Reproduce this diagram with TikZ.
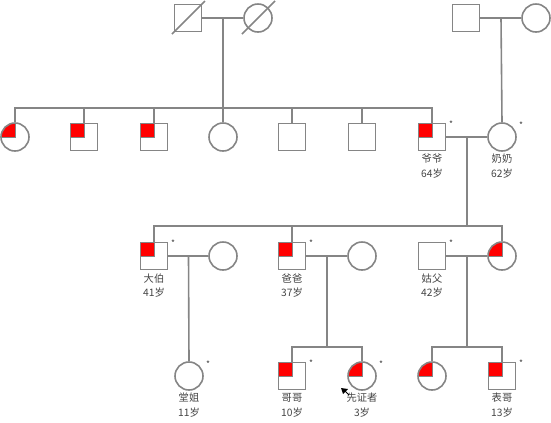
\documentclass[tikz,border=0pt]{standalone}
\usepackage{fontspec}
\newfontfamily\cjk{Noto Sans CJK SC}
\usetikzlibrary{calc}
\definecolor{ln}{HTML}{858585}
\definecolor{tx}{HTML}{444444}
\definecolor{af}{HTML}{FF0000}
\tikzset{
  x=1bp,y=-1bp,
  conn/.style={draw=ln,line width=1.6bp},
  sq/.style={draw=ln,line width=1.6bp,rectangle,minimum size=27bp,inner sep=0pt},
  circ/.style={draw=ln,line width=1.6bp,circle,minimum size=28bp,inner sep=0pt},
  aff/.style={path picture={
     \fill[af,draw=ln,line width=0.9bp] (path picture bounding box.north west) rectangle (path picture bounding box.center);}},
  lbl/.style={font=\cjk\fontsize{10.3}{12}\selectfont,text=tx,inner sep=0pt},
  star/.style={font=\cjk\fontsize{8.5}{9}\selectfont,text=tx,inner sep=0pt},
}
\begin{document}
\begin{tikzpicture}
\useasboundingbox (0,0) rectangle (551,422);
% generation 1
\node[sq] (p1) at (188,18) {};
\node[circ] (p2) at (258,18) {};
\node[sq] (p3) at (466,18) {};
\node[circ] (p4) at (536,18) {};
\draw[conn] ($(p1.center)+(-16,16)$) -- ($(p1.center)+(17,-17)$);
\draw[conn] ($(p2.center)+(-16,16)$) -- ($(p2.center)+(17,-17)$);
% generation 2
\node[circ,aff] (c1) at (15,137) {};
\node[sq,aff] (c2) at (84,137) {};
\node[sq,aff] (c3) at (154,137) {};
\node[circ] (c4) at (223,137) {};
\node[sq] (c5) at (292,137) {};
\node[sq] (c6) at (362,137) {};
\node[sq,aff] (yy) at (432,137) {};
\node[circ] (nn) at (502,137) {};
% generation 3
\node[sq,aff] (db) at (154,256) {};
\node[circ] (dw) at (223,256) {};
\node[sq,aff] (bb) at (292,256) {};
\node[circ] (mm) at (362,256) {};
\node[sq] (gf) at (432,256) {};
\node[circ,aff] (gu) at (502,256) {};
% generation 4
\node[circ] (tj) at (189,376) {};
\node[sq,aff] (gg) at (292,376) {};
\node[circ,aff] (pb) at (362,376) {};
\node[circ,aff] (bc) at (432,376) {};
\node[sq,aff] (bg) at (502,376) {};
% couple lines
\draw[conn] (p1) -- (p2);
\draw[conn] (p3) -- (p4);
\draw[conn] (yy) -- (nn);
\draw[conn] (db) -- (dw);
\draw[conn] (bb) -- (mm);
\draw[conn] (gf) -- (gu);
% sibship coordinates
\coordinate (m1) at ($(p1)!0.5!(p2)$);
\coordinate (m2) at ($(p3)!0.5!(p4)$);
\coordinate (m3) at ($(yy)!0.5!(nn)$);
\coordinate (m4) at ($(db)!0.5!(dw)$);
\coordinate (m5) at ($(bb)!0.5!(mm)$);
\coordinate (m6) at ($(gf)!0.5!(gu)$);
\coordinate (s1) at (223,108);
\coordinate (s3) at (467,226);
\coordinate (s5) at (327,347);
\coordinate (s6) at (467,347);
% gen1 -> gen2
\draw[conn] (m1) -- (s1);
\draw[conn] (c1.north) -- (c1 |- s1) -- (yy |- s1) -- (yy.north);
\foreach \n in {c2,c3,c4,c5,c6} \draw[conn] (\n.north) -- (\n |- s1);
\draw[conn] (m2) -- (nn.north);
% gen2 -> gen3
\draw[conn] (m3) -- (s3);
\draw[conn] (db.north) -- (db |- s3) -- (gu |- s3) -- (gu.north);
\draw[conn] (bb.north) -- (bb |- s3);
% gen3 -> gen4
\draw[conn] (m4) -- (tj.north);
\draw[conn] (m5) -- (s5);
\draw[conn] (gg.north) -- (gg |- s5) -- (pb |- s5) -- (pb.north);
\draw[conn] (m6) -- (s6);
\draw[conn] (bc.north) -- (bc |- s6) -- (bg |- s6) -- (bg.north);
% labels
\node[lbl] (l1) at ($(yy)+(0,22)$) {爷爷};
\node[lbl] (a1) at ($(yy)+(0,37)$) {64岁};
\node[lbl] (l2) at ($(nn)+(0,22)$) {奶奶};
\node[lbl] (a2) at ($(nn)+(0,37)$) {62岁};
\node[lbl] (l3) at ($(db)+(0,23)$) {大伯};
\node[lbl] (a3) at ($(db)+(0,37)$) {41岁};
\node[lbl] (l4) at ($(bb)+(0,23)$) {爸爸};
\node[lbl] (a4) at ($(bb)+(0,37)$) {37岁};
\node[lbl] (l5) at ($(gf)+(0,23)$) {姑父};
\node[lbl] (a5) at ($(gf)+(0,37)$) {42岁};
\node[lbl] (l6) at ($(tj)+(0,22)$) {堂姐};
\node[lbl] (a6) at ($(tj)+(0,37)$) {11岁};
\node[lbl] (l7) at ($(gg)+(0,22)$) {哥哥};
\node[lbl] (a7) at ($(gg)+(0,37)$) {10岁};
\node[lbl] (l8) at ($(pb)+(0,22)$) {先证者};
\node[lbl] (a8) at ($(pb)+(0,37)$) {3岁};
\node[lbl] (l9) at ($(bg)+(0,22)$) {表哥};
\node[lbl] (a9) at ($(bg)+(0,37)$) {13岁};
% asterisks
\foreach \n in {yy,db,bb,gf,gg,bg} \node[star] at ($(\n)+(19,-13)$) {*};
\foreach \n in {nn,tj,pb} \node[star] at ($(\n)+(19,-12)$) {*};
% proband arrow
\fill[black] (341,388) -- (348,389) -- (343,394) -- cycle;
\draw[black,line width=0.9bp] (344,390) -- (349,395);
\end{tikzpicture}
\end{document}
